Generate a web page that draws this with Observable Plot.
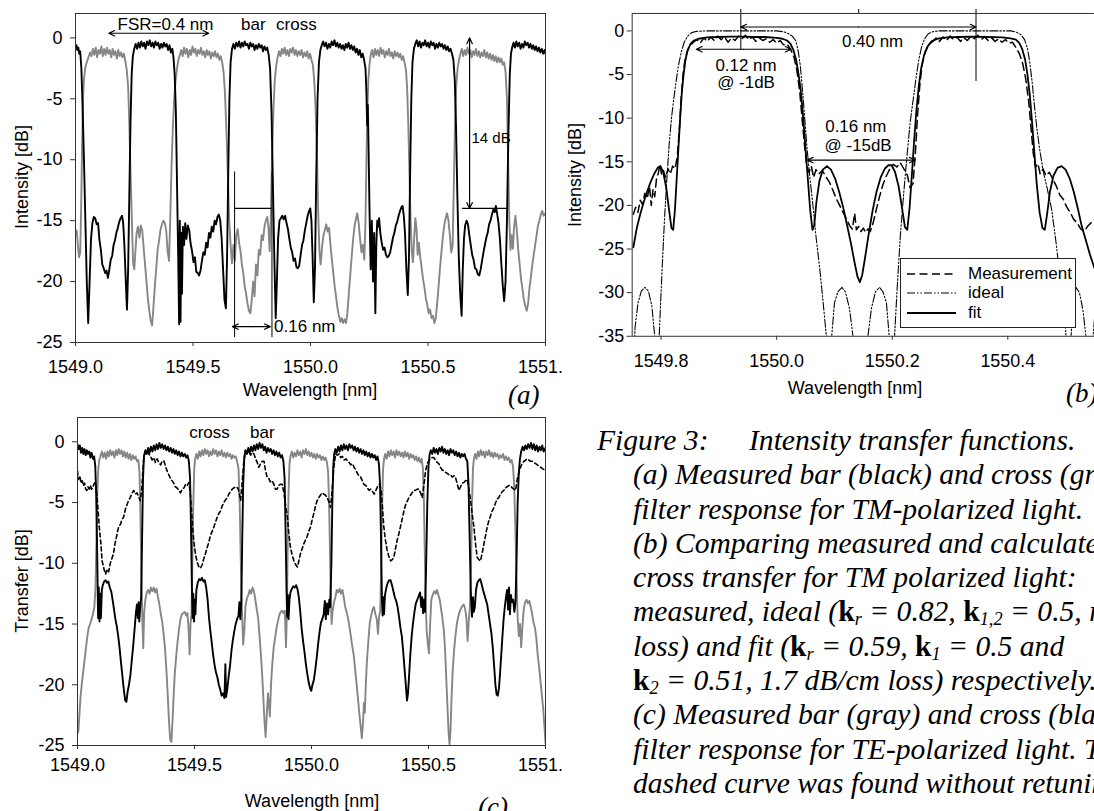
<!DOCTYPE html>
<html><head><meta charset="utf-8">
<script src="https://cdn.jsdelivr.net/npm/d3@7"></script>
<script src="https://cdn.jsdelivr.net/npm/@observablehq/plot@0.6"></script>
<style>
html,body{margin:0;padding:0;background:#fff;}
body{width:1094px;height:811px;overflow:hidden;position:relative;font-family:'Liberation Sans',Arial,sans-serif;color:#000;}
.panel{position:absolute;overflow:hidden;}
.ylab{position:absolute;white-space:nowrap;font-size:18px;transform:translate(-50%,-50%) rotate(-90deg);}
.xlab{position:absolute;white-space:nowrap;font-size:18px;transform:translateX(-50%);}
.plab{position:absolute;white-space:nowrap;font-family:'Liberation Serif','Times New Roman',serif;font-style:italic;font-size:27px;}
#caption{position:absolute;left:633px;top:423px;width:470px;font-family:'Liberation Serif','Times New Roman',serif;font-style:italic;font-size:29.6px;line-height:34.3px;white-space:nowrap;}
#caption div{position:relative;height:34.3px;}
#caption b{font-style:normal;font-weight:bold;}
#caption sub{font-size:0.62em;vertical-align:-0.22em;line-height:0;}
#legend{position:absolute;left:900px;top:258px;width:174px;height:68px;border:1px solid #222;background:#fff;font-size:17px;}
#legend .row{position:absolute;left:0;height:20px;width:174px;}
#legend svg{position:absolute;left:6px;top:0;}
#legend span{position:absolute;left:67px;top:0;line-height:20px;}
</style>
</head><body>
<div id="pa" class="panel" style="left:0;top:0;width:562px;height:400px"></div>
<div id="pb" class="panel" style="left:540px;top:0;width:554px;height:400px"></div>
<div id="pc" class="panel" style="left:0;top:400px;width:562px;height:411px"></div>

<div class="ylab" style="left:22px;top:177px">Intensity [dB]</div>
<div class="xlab" style="left:310px;top:380px">Wavelength [nm]</div>
<div class="plab" style="left:508px;top:380px">(a)</div>

<div class="ylab" style="left:575px;top:175px">Intensity [dB]</div>
<div class="xlab" style="left:855px;top:378px">Wavelength [nm]</div>
<div class="plab" style="left:1066px;top:378px">(b)</div>

<div class="ylab" style="left:22px;top:581px">Transfer [dB]</div>
<div class="xlab" style="left:312px;top:791px">Wavelength [nm]</div>
<div class="plab" style="left:478px;top:792px">(c)</div>

<div id="legend">
  <div class="row" style="top:5px"><svg width="50" height="20"><line x1="0" y1="10" x2="49" y2="10" stroke="#000" stroke-width="1.5" stroke-dasharray="8,4.5"/></svg><span>Measurement</span></div>
  <div class="row" style="top:24px"><svg width="50" height="20"><line x1="0" y1="10" x2="49" y2="10" stroke="#000" stroke-width="1.1" stroke-dasharray="8,2,1.5,2,1.5,2"/></svg><span>ideal</span></div>
  <div class="row" style="top:44px"><svg width="50" height="20"><line x1="0" y1="10" x2="49" y2="10" stroke="#000" stroke-width="1.8"/></svg><span>fit</span></div>
</div>

<div id="caption">
  <div><span style="position:absolute;left:-36px">Figure 3:</span><span style="position:absolute;left:116px">Intensity transfer functions.</span></div>
  <div>(a) Measured bar (black) and cross (gray)</div>
  <div>filter response for TM-polarized light.</div>
  <div>(b) Comparing measured and calculated</div>
  <div>cross transfer for TM polarized light:</div>
  <div>measured, ideal (<b>k</b><sub>r</sub> = 0.82, <b>k</b><sub>1,2</sub> = 0.5, no</div>
  <div>loss) and fit (<b>k</b><sub>r</sub> = 0.59, <b>k</b><sub>1</sub> = 0.5 and</div>
  <div><b>k</b><sub>2</sub> = 0.51, 1.7 dB/cm loss) respectively.</div>
  <div>(c) Measured bar (gray) and cross (black)</div>
  <div>filter response for TE-polarized light. The</div>
  <div>dashed curve was found without retuning.</div>
</div>

<script>
// ---------------- Panel (a): TM, bar (black) and cross (gray) ----------------
const ticksXA = [1549.0, 1549.5, 1550.0, 1550.5, 1551.0];
const ticksYA = [-25, -20, -15, -10, -5, 0];
const barA = [
[1549.000,-0.9],[1549.004,-0.6],[1549.008,-1.0],[1549.012,-0.8],[1549.016,-1.3],[1549.020,-1.1],[1549.025,-2.5],[1549.030,-5.5],[1549.036,-10],[1549.042,-15],[1549.048,-20],[1549.054,-23.4],[1549.060,-20],[1549.066,-16.5],[1549.072,-15.2],[1549.078,-14.7],[1549.084,-14.8],[1549.090,-15.3],[1549.096,-15.2],[1549.102,-16.6],[1549.108,-17.4],[1549.114,-18.6],[1549.120,-18.9],[1549.126,-19.3],[1549.132,-19.1],[1549.138,-19.7],[1549.144,-19.0],[1549.150,-18.2],[1549.156,-17.9],[1549.162,-17.0],[1549.168,-16.6],[1549.174,-16.0],[1549.180,-15.6],[1549.186,-15.1],[1549.192,-14.8],[1549.198,-14.6],[1549.203,-15.2],[1549.208,-17],[1549.214,-20],[1549.219,-22.3],[1549.224,-19],[1549.229,-13],[1549.234,-7],[1549.239,-3],[1549.244,-1.5],[1549.250,-0.9],
[1549.256,-0.5],[1549.262,-0.9],[1549.268,-0.4],[1549.274,-0.8],[1549.280,-0.3],[1549.286,-0.7],[1549.292,-0.4],[1549.298,-0.9],[1549.304,-0.3],[1549.310,-0.6],[1549.316,-0.2],[1549.322,-0.7],[1549.328,-0.4],[1549.334,-0.8],[1549.340,-0.3],[1549.346,-0.6],[1549.352,-0.4],[1549.358,-0.9],[1549.364,-0.5],[1549.370,-0.8],[1549.376,-0.4],[1549.382,-0.7],[1549.388,-0.5],[1549.394,-1.0],[1549.400,-0.6],[1549.406,-1.2],[1549.412,-0.9],[1549.417,-1.6],[1549.422,-3],[1549.427,-6],
[1549.432,-12],[1549.437,-18],[1549.441,-23.5],[1549.444,-15],[1549.447,-23.3],[1549.450,-16],[1549.453,-21],[1549.457,-15.5],[1549.462,-17],[1549.467,-15.2],[1549.472,-16.5],[1549.478,-15.4],[1549.484,-15.8],[1549.490,-16.9],[1549.496,-17.5],[1549.502,-18.4],[1549.508,-18.0],[1549.514,-19.2],[1549.520,-19.3],[1549.526,-19.5],[1549.532,-19.1],[1549.538,-18.3],[1549.544,-17.6],[1549.550,-17.8],[1549.556,-16.8],[1549.562,-17.2],[1549.568,-16.0],[1549.574,-16.4],[1549.580,-15.5],[1549.586,-15.9],[1549.592,-15.0],[1549.598,-15.3],[1549.604,-14.7],[1549.610,-14.5],[1549.616,-15.0],[1549.622,-16.5],[1549.628,-19],[1549.634,-21.5],[1549.640,-22.2],[1549.645,-18],[1549.650,-11],[1549.655,-5],[1549.660,-2],[1549.666,-0.9],
[1549.672,-0.5],[1549.678,-0.9],[1549.684,-0.4],[1549.690,-0.7],[1549.696,-0.3],[1549.702,-0.8],[1549.708,-0.4],[1549.714,-0.7],[1549.720,-0.3],[1549.726,-0.6],[1549.732,-0.5],[1549.738,-0.9],[1549.744,-0.4],[1549.750,-0.7],[1549.756,-0.5],[1549.762,-1.0],[1549.768,-0.6],[1549.774,-0.9],[1549.780,-0.5],[1549.786,-0.8],[1549.792,-0.6],[1549.798,-1.1],[1549.804,-0.7],[1549.810,-1.0],[1549.816,-0.8],[1549.822,-1.4],[1549.828,-2.5],[1549.834,-6],[1549.840,-12],[1549.846,-18],[1549.852,-23],[1549.857,-20],[1549.862,-16.5],[1549.868,-15.0],[1549.874,-14.8],[1549.880,-14.6],[1549.886,-14.9],[1549.892,-14.6],[1549.898,-15.2],[1549.904,-15.7],[1549.910,-16.5],[1549.916,-17.2],[1549.922,-17.6],[1549.928,-18.3],[1549.934,-18.1],[1549.940,-18.8],[1549.946,-18.9],[1549.952,-18.7],[1549.958,-17.8],[1549.964,-17.0],[1549.970,-16.6],[1549.976,-15.8],[1549.982,-15.2],[1549.988,-14.6],[1549.994,-14.2],[1549.999,-14.0],[1550.004,-15],[1550.009,-18],[1550.014,-21.7],[1550.019,-19],[1550.024,-12],[1550.030,-5],[1550.036,-2],[1550.042,-1.0],
[1550.048,-0.6],[1550.054,-0.3],[1550.060,-0.7],[1550.066,-0.4],[1550.072,-0.9],[1550.078,-0.5],[1550.084,-0.8],[1550.090,-0.3],[1550.096,-0.6],[1550.102,-0.2],[1550.108,-0.7],[1550.114,-0.4],[1550.120,-0.8],[1550.126,-0.5],[1550.132,-0.9],[1550.138,-0.6],[1550.144,-1.0],[1550.150,-0.5],[1550.156,-0.8],[1550.162,-0.4],[1550.168,-0.9],[1550.174,-0.6],[1550.180,-1.0],[1550.186,-0.7],[1550.192,-1.2],[1550.198,-0.9],[1550.204,-1.4],[1550.210,-1.0],[1550.216,-1.6],[1550.222,-1.3],[1550.228,-1.8],[1550.234,-2.5],[1550.238,-4.5],[1550.241,-7.2],[1550.244,-5.5],[1550.247,-9],[1550.251,-14],[1550.256,-19],[1550.261,-15],[1550.266,-20],[1550.271,-16],[1550.276,-22.6],[1550.280,-17],[1550.284,-15],[1550.288,-15.5],[1550.292,-14.8],[1550.297,-16],[1550.303,-16.8],[1550.309,-17.4],[1550.315,-17.2],[1550.321,-17.8],[1550.327,-18.0],[1550.333,-17.9],[1550.339,-17.6],[1550.345,-17.0],[1550.351,-16.4],[1550.357,-16.0],[1550.363,-15.4],[1550.369,-15.1],[1550.375,-14.6],[1550.381,-14.2],[1550.387,-13.9],[1550.392,-13.8],[1550.397,-14.6],[1550.402,-16],[1550.408,-19],[1550.414,-21.1],[1550.419,-18],[1550.424,-11],[1550.429,-5],[1550.434,-2],[1550.440,-0.9],
[1550.446,-0.5],[1550.452,-0.2],[1550.458,-0.7],[1550.464,-0.3],[1550.470,-0.8],[1550.476,-0.4],[1550.482,-0.6],[1550.488,-0.2],[1550.494,-0.7],[1550.500,-0.4],[1550.506,-0.8],[1550.512,-0.3],[1550.518,-0.6],[1550.524,-0.4],[1550.530,-0.9],[1550.536,-0.5],[1550.542,-0.8],[1550.548,-0.4],[1550.554,-0.7],[1550.560,-0.5],[1550.566,-0.9],[1550.572,-0.6],[1550.578,-1.0],[1550.584,-0.7],[1550.590,-1.1],[1550.596,-0.9],[1550.602,-1.3],[1550.608,-1.8],[1550.614,-3.5],[1550.619,-7],[1550.625,-13],[1550.631,-18],[1550.637,-21],[1550.643,-22.8],[1550.648,-19],[1550.653,-16.5],[1550.658,-15.4],[1550.664,-15.0],[1550.670,-15.3],[1550.676,-16.2],[1550.682,-17.0],[1550.688,-17.8],[1550.694,-18.2],[1550.700,-18.9],[1550.706,-19.0],[1550.712,-19.4],[1550.718,-19.5],[1550.724,-19.0],[1550.730,-18.3],[1550.736,-17.6],[1550.742,-17.0],[1550.748,-16.4],[1550.754,-16.0],[1550.760,-15.3],[1550.766,-15.0],[1550.772,-14.5],[1550.778,-14.1],[1550.784,-14.3],[1550.789,-13.8],[1550.794,-14.4],[1550.800,-15.2],[1550.806,-16.5],[1550.812,-18.5],[1550.818,-20.3],[1550.824,-21.6],[1550.830,-20],[1550.836,-15],[1550.842,-8],[1550.848,-3],[1550.853,-1.3],
[1550.858,-0.8],[1550.864,-0.4],[1550.870,-0.8],[1550.876,-0.3],[1550.882,-0.7],[1550.888,-0.4],[1550.894,-0.9],[1550.900,-0.5],[1550.906,-0.8],[1550.912,-0.3],[1550.918,-0.6],[1550.924,-0.4],[1550.930,-0.8],[1550.936,-0.5],[1550.942,-0.9],[1550.948,-0.6],[1550.954,-1.0],[1550.960,-0.7],[1550.966,-1.1],[1550.972,-0.8],[1550.978,-1.2],[1550.984,-0.9],[1550.990,-1.3],[1550.996,-1.0],[1551.000,-1.3]
];
const crossA = [
[1549.000,-16.2],[1549.005,-15.8],[1549.010,-17.0],[1549.015,-18.0],[1549.020,-17.6],[1549.024,-14],[1549.028,-9],[1549.032,-5],[1549.036,-3.4],[1549.042,-2.4],[1549.048,-2.0],[1549.055,-1.6],[1549.062,-1.2],
[1549.068,-1.5],[1549.074,-0.9],[1549.080,-1.4],[1549.086,-0.8],[1549.092,-1.6],[1549.098,-1.0],[1549.104,-1.3],[1549.110,-0.7],[1549.116,-1.5],[1549.122,-0.9],[1549.128,-1.4],[1549.134,-0.8],[1549.140,-1.3],[1549.146,-1.0],[1549.152,-1.6],[1549.158,-0.9],[1549.164,-1.4],[1549.170,-1.1],[1549.176,-1.7],[1549.182,-1.0],[1549.188,-1.5],[1549.194,-1.2],[1549.200,-1.6],[1549.206,-1.3],[1549.212,-1.9],[1549.218,-2.6],[1549.224,-4],[1549.229,-7],[1549.234,-11],[1549.240,-15],[1549.245,-18.5],[1549.250,-19],[1549.255,-17.5],[1549.260,-16],[1549.266,-15.5],[1549.272,-16.4],[1549.278,-15.4],[1549.284,-15.8],[1549.290,-17.2],[1549.296,-18.6],[1549.302,-20.0],[1549.308,-21.4],[1549.314,-22.4],[1549.320,-23.2],[1549.326,-23.6],[1549.332,-22.0],[1549.338,-20.3],[1549.344,-18.8],[1549.350,-17.3],[1549.356,-16.6],[1549.362,-15.7],[1549.368,-15.3],[1549.374,-15.0],[1549.380,-15.2],[1549.386,-15.8],[1549.392,-17.5],[1549.398,-18.3],[1549.403,-15],[1549.408,-11],[1549.414,-7.5],[1549.420,-5],[1549.426,-3.5],[1549.432,-2.5],[1549.438,-1.8],[1549.444,-1.4],
[1549.450,-1.0],[1549.456,-1.5],[1549.462,-0.8],[1549.468,-1.3],[1549.474,-0.9],[1549.480,-1.6],[1549.486,-1.0],[1549.492,-1.4],[1549.498,-0.7],[1549.504,-1.2],[1549.510,-0.9],[1549.516,-1.5],[1549.522,-1.0],[1549.528,-1.3],[1549.534,-0.8],[1549.540,-1.4],[1549.546,-1.1],[1549.552,-1.6],[1549.558,-1.0],[1549.564,-1.4],[1549.570,-1.1],[1549.576,-1.7],[1549.582,-1.2],[1549.588,-1.5],[1549.594,-1.1],[1549.600,-1.6],[1549.606,-1.3],[1549.612,-1.8],[1549.618,-1.5],[1549.624,-2.0],[1549.630,-2.8],[1549.636,-4.5],[1549.642,-7.5],[1549.648,-11],[1549.654,-15],[1549.660,-17],[1549.666,-18.5],[1549.672,-17.0],[1549.678,-18.3],[1549.684,-16.2],[1549.690,-15.7],[1549.696,-16.8],[1549.702,-17.5],[1549.708,-18.6],[1549.714,-19.3],[1549.720,-20.4],[1549.726,-21.0],[1549.732,-21.8],[1549.738,-22.4],[1549.744,-22.6],[1549.750,-21.5],[1549.756,-20.0],[1549.762,-21.2],[1549.768,-18.6],[1549.774,-19.5],[1549.780,-17.4],[1549.786,-17.8],[1549.792,-16.2],[1549.798,-16.6],[1549.804,-15.5],[1549.810,-15.0],[1549.816,-14.7],[1549.821,-15.5],[1549.826,-17.5],[1549.831,-15],[1549.836,-10],[1549.842,-6],[1549.848,-3.5],[1549.854,-2.3],[1549.860,-1.6],
[1549.866,-1.1],[1549.872,-1.5],[1549.878,-0.9],[1549.884,-1.3],[1549.890,-0.8],[1549.896,-1.4],[1549.902,-1.0],[1549.908,-1.5],[1549.914,-0.9],[1549.920,-1.2],[1549.926,-0.8],[1549.932,-1.4],[1549.938,-1.0],[1549.944,-1.5],[1549.950,-1.1],[1549.956,-1.4],[1549.962,-1.0],[1549.968,-1.6],[1549.974,-1.2],[1549.980,-1.5],[1549.986,-1.1],[1549.992,-1.7],[1549.998,-1.3],[1550.004,-1.8],[1550.010,-2.2],[1550.016,-3.5],[1550.022,-6],[1550.028,-10],[1550.033,-14.5],[1550.038,-17.5],[1550.043,-18.6],[1550.049,-17.2],[1550.055,-16.2],[1550.061,-15.8],[1550.067,-15.3],[1550.073,-15.9],[1550.079,-15.6],[1550.085,-17.0],[1550.091,-18.2],[1550.097,-19.3],[1550.103,-20.4],[1550.109,-21.3],[1550.115,-22.2],[1550.121,-22.8],[1550.127,-23.3],[1550.133,-23.0],[1550.139,-23.4],[1550.145,-23.1],[1550.151,-23.4],[1550.157,-22.6],[1550.163,-21.0],[1550.169,-19.5],[1550.175,-18.0],[1550.181,-16.6],[1550.187,-15.5],[1550.193,-14.9],[1550.199,-14.4],[1550.205,-15.2],[1550.211,-16.5],[1550.217,-17.6],[1550.223,-17.0],[1550.229,-18.2],[1550.234,-15],[1550.238,-10],[1550.242,-6],[1550.246,-3.5],[1550.251,-2.2],
[1550.256,-1.4],[1550.262,-1.0],[1550.268,-1.6],[1550.274,-0.9],[1550.280,-1.4],[1550.286,-1.0],[1550.292,-1.5],[1550.298,-0.8],[1550.304,-1.3],[1550.310,-1.0],[1550.316,-1.6],[1550.322,-1.1],[1550.328,-1.4],[1550.334,-0.9],[1550.340,-1.5],[1550.346,-1.2],[1550.352,-1.7],[1550.358,-1.1],[1550.364,-1.5],[1550.370,-1.2],[1550.376,-1.6],[1550.382,-1.3],[1550.388,-1.8],[1550.394,-1.5],[1550.400,-2.0],[1550.406,-2.6],[1550.411,-4],[1550.416,-7],[1550.421,-11],[1550.426,-15],[1550.431,-17.5],[1550.436,-18.4],[1550.441,-16.5],[1550.446,-14.8],[1550.451,-15.6],[1550.456,-17.8],[1550.461,-16.8],[1550.467,-18.0],[1550.473,-18.9],[1550.479,-19.8],[1550.485,-20.5],[1550.491,-21.4],[1550.497,-21.9],[1550.503,-22.6],[1550.509,-22.3],[1550.515,-23.0],[1550.521,-22.8],[1550.527,-23.4],[1550.533,-23.0],[1550.539,-21.8],[1550.545,-20.4],[1550.551,-18.9],[1550.557,-17.6],[1550.563,-16.4],[1550.569,-15.4],[1550.575,-14.8],[1550.581,-14.4],[1550.587,-15.0],[1550.593,-16.2],[1550.599,-17.6],[1550.605,-17.0],[1550.610,-12],[1550.615,-7],[1550.620,-4],[1550.626,-2.5],[1550.632,-1.8],
[1550.638,-1.3],[1550.644,-0.9],[1550.650,-1.5],[1550.656,-1.0],[1550.662,-1.4],[1550.668,-0.8],[1550.674,-1.3],[1550.680,-1.0],[1550.686,-1.6],[1550.692,-1.1],[1550.698,-1.4],[1550.704,-0.9],[1550.710,-1.5],[1550.716,-1.1],[1550.722,-1.6],[1550.728,-1.2],[1550.734,-1.5],[1550.740,-1.0],[1550.746,-1.6],[1550.752,-1.2],[1550.758,-1.7],[1550.764,-1.3],[1550.770,-1.8],[1550.776,-1.4],[1550.782,-1.9],[1550.788,-1.5],[1550.794,-2.0],[1550.800,-1.6],[1550.806,-2.0],[1550.812,-1.7],[1550.818,-2.2],[1550.824,-2.0],[1550.830,-2.8],[1550.836,-5],[1550.841,-10],[1550.846,-15],[1550.851,-17.4],[1550.856,-16.2],[1550.861,-17.3],[1550.866,-15.6],[1550.872,-14.6],[1550.878,-15.8],[1550.884,-17.4],[1550.890,-18.6],[1550.896,-19.8],[1550.902,-20.6],[1550.908,-21.5],[1550.914,-22.0],[1550.920,-22.4],[1550.926,-21.8],[1550.932,-20.5],[1550.938,-19.6],[1550.944,-18.6],[1550.950,-17.8],[1550.956,-17.0],[1550.962,-16.2],[1550.968,-15.4],[1550.974,-15.0],[1550.980,-14.5],[1550.986,-14.2],[1550.992,-14.6],[1551.000,-14.4]
];
// annotations (a): [x1, y1, x2, y2] double arrows; rules; labels
const arrowsA = [[1549.142, 0.38, 1549.567, 0.38], [1550.677, 0, 1550.677, -14], [1549.668, -23.7, 1549.829, -23.7]];
const vrulesA = [[1549.677, -11, -24.6], [1549.836, -11, -24.6]];
const hrulesA = [[-14, 1549.677, 1549.836], [-14, 1550.647, 1550.843]];
const labelsMidA = [
  {x: 1549.383, y: 1.12, text: "FSR=0.4 nm"},
  {x: 1549.757, y: 1.12, text: "bar"},
  {x: 1549.940, y: 1.12, text: "cross"}
];
const labelsStartA = [
  {x: 1550.685, y: -8.2, text: "14 dB", size: 15},
  {x: 1549.845, y: -23.7, text: "0.16 nm", size: 17}
];

// ---------------- Panel (b): cross transfer TM, measurement / ideal / fit ----------------
const ticksXB = [1549.8, 1550.0, 1550.2, 1550.4];
const ticksYB = [-35, -30, -25, -20, -15, -10, -5, 0];
const fitB = [
[1549.752,-24.8],[1549.758,-22.6],[1549.764,-21.0],[1549.770,-19.6],[1549.776,-18.4],[1549.782,-17.3],[1549.788,-16.4],[1549.794,-15.7],[1549.799,-15.5],[1549.804,-16.3],[1549.809,-18.0],[1549.814,-20.6],[1549.818,-22.6],[1549.821,-22.8],[1549.824,-20.5],[1549.827,-17.0],[1549.830,-13.5],[1549.833,-10],[1549.836,-7],[1549.839,-5],[1549.842,-3.4],[1549.846,-2.2],[1549.851,-1.5],[1549.857,-1.1],[1549.865,-0.9],[1549.880,-0.75],[1549.900,-0.7],[1549.920,-0.65],[1549.940,-0.65],[1549.960,-0.7],[1549.980,-0.7],[1550.000,-0.8],[1550.010,-0.9],[1550.018,-1.1],[1550.024,-1.5],[1550.029,-2.2],[1550.034,-3.4],[1550.038,-5],[1550.042,-7],[1550.046,-10],[1550.050,-13.5],[1550.054,-17],[1550.058,-20.5],[1550.062,-22.8],[1550.065,-22.3],[1550.069,-19.5],[1550.074,-17.2],[1550.080,-15.9],[1550.087,-15.5],[1550.094,-15.9],[1550.101,-16.9],[1550.108,-18.4],[1550.115,-20.2],[1550.122,-22.3],[1550.129,-24.5],[1550.135,-26.6],[1550.140,-28.2],[1550.144,-28.8],[1550.148,-28.0],[1550.153,-26.0],[1550.159,-23.4],[1550.166,-20.6],[1550.173,-18.4],[1550.180,-16.8],[1550.187,-15.8],[1550.193,-15.4],[1550.199,-15.4],[1550.205,-16.2],[1550.211,-17.8],[1550.217,-20.3],[1550.222,-22.5],[1550.226,-22.8],[1550.230,-20.3],[1550.234,-16.5],[1550.238,-12.5],[1550.242,-9],[1550.246,-6.3],[1550.250,-4.3],[1550.255,-2.8],[1550.261,-1.8],[1550.268,-1.2],[1550.278,-0.9],[1550.295,-0.75],[1550.315,-0.7],[1550.340,-0.65],[1550.365,-0.7],[1550.390,-0.75],[1550.405,-0.85],[1550.414,-1.0],[1550.420,-1.4],[1550.425,-2.1],[1550.430,-3.3],[1550.434,-5],[1550.438,-7.3],[1550.442,-10.5],[1550.446,-14],[1550.450,-17.5],[1550.455,-20.8],[1550.460,-22.6],[1550.464,-22.8],[1550.468,-21.0],[1550.473,-18.4],[1550.479,-16.6],[1550.486,-15.7],[1550.493,-15.5],[1550.500,-15.9],[1550.507,-16.9],[1550.514,-18.4],[1550.521,-20.3],[1550.528,-22.4],[1550.535,-24.0],[1550.542,-25.6],[1550.550,-27.2]
];
const idealB = [
[1549.750,-42],[1549.755,-34],[1549.760,-31.2],[1549.766,-29.8],[1549.772,-29.4],[1549.778,-29.8],[1549.784,-31.5],[1549.789,-35],[1549.792,-45],[1549.795,-38],[1549.798,-33],[1549.802,-27],[1549.806,-21.5],[1549.810,-17],[1549.814,-13],[1549.818,-10],[1549.822,-7.8],[1549.826,-5.8],[1549.830,-4.0],[1549.835,-2.4],[1549.840,-1.3],[1549.846,-0.6],[1549.853,-0.2],[1549.862,-0.05],[1549.880,0],[1549.940,0],[1550.000,0],[1550.012,-0.1],[1550.020,-0.3],[1550.027,-0.6],[1550.033,-1.1],[1550.037,-2.2],[1550.041,-4],[1550.045,-7],[1550.048,-9.5],[1550.052,-13],[1550.057,-16.5],[1550.062,-19.5],[1550.068,-23.5],[1550.075,-27.5],[1550.081,-31.5],[1550.086,-35],[1550.090,-45],[1550.094,-36],[1550.100,-31.2],[1550.106,-29.9],[1550.113,-29.4],[1550.119,-29.9],[1550.126,-31.8],[1550.133,-35.5],[1550.139,-40],[1550.145,-55],[1550.151,-40],[1550.157,-35.5],[1550.164,-31.8],[1550.171,-29.9],[1550.178,-29.4],[1550.184,-29.9],[1550.190,-31.2],[1550.196,-36],[1550.200,-45],[1550.204,-35],[1550.209,-29],[1550.214,-23.5],[1550.220,-18.5],[1550.226,-14],[1550.231,-10.5],[1550.236,-8],[1550.241,-5.5],[1550.246,-3.3],[1550.251,-1.8],[1550.256,-0.9],[1550.262,-0.35],[1550.270,-0.1],[1550.280,0],[1550.340,0],[1550.405,0],[1550.415,-0.15],[1550.423,-0.45],[1550.429,-1.0],[1550.434,-2.0],[1550.438,-3.6],[1550.442,-5.8],[1550.446,-8.5],[1550.450,-11],[1550.455,-13.5],[1550.461,-16],[1550.468,-18],[1550.476,-20.5],[1550.483,-24],[1550.490,-28],[1550.496,-31.5],[1550.501,-35],[1550.505,-45],[1550.509,-35.5],[1550.513,-31.2],[1550.518,-29.4],[1550.524,-30],[1550.530,-32],[1550.536,-35.5],[1550.540,-45],[1550.545,-37],[1550.550,-33]
];
const measB = [
[1549.752,-21.0],[1549.756,-20.2],[1549.760,-20.8],[1549.764,-19.4],[1549.768,-19.9],[1549.772,-18.6],[1549.776,-19.2],[1549.780,-17.8],[1549.783,-20.0],[1549.786,-18.2],[1549.789,-19.0],[1549.792,-17.0],[1549.795,-16.4],[1549.798,-15.3],[1549.801,-16.5],[1549.804,-16.0],[1549.808,-16.8],[1549.812,-15.8],[1549.816,-16.4],[1549.820,-15.5],[1549.824,-15.8],[1549.828,-14.5],[1549.832,-11],[1549.835,-7.5],[1549.838,-5],[1549.841,-3.5],[1549.845,-2.4],[1549.850,-1.7],[1549.856,-1.3],
[1549.862,-1.0],[1549.868,-1.4],[1549.874,-0.8],[1549.880,-1.2],[1549.886,-0.7],[1549.892,-1.1],[1549.898,-0.6],[1549.904,-1.0],[1549.910,-0.7],[1549.916,-1.3],[1549.922,-0.8],[1549.928,-1.1],[1549.934,-0.6],[1549.940,-0.9],[1549.946,-0.5],[1549.952,-1.0],[1549.958,-0.7],[1549.964,-1.2],[1549.970,-0.8],[1549.976,-1.1],[1549.982,-0.9],[1549.988,-1.3],[1549.994,-1.0],[1550.000,-1.4],[1550.006,-1.1],[1550.012,-1.6],[1550.018,-1.5],[1550.024,-2.1],[1550.030,-3.0],[1550.035,-4.5],[1550.040,-7],[1550.044,-10],[1550.048,-13],[1550.052,-15.5],[1550.056,-16.2],[1550.060,-15.5],[1550.064,-16.8],[1550.068,-15.9],[1550.073,-16.4],[1550.079,-16.0],[1550.085,-16.7],[1550.091,-17.3],[1550.097,-18.2],[1550.103,-19.2],[1550.109,-20.0],[1550.115,-20.8],[1550.121,-21.6],[1550.127,-22.4],[1550.131,-22.7],[1550.135,-20.9],[1550.138,-22.8],[1550.142,-22.4],[1550.146,-23.0],[1550.150,-22.6],[1550.154,-23.1],[1550.158,-22.7],[1550.162,-23.0],[1550.167,-22.0],[1550.172,-20.6],[1550.178,-19.0],[1550.184,-17.6],[1550.190,-16.6],[1550.196,-15.8],[1550.202,-15.3],[1550.208,-15.6],[1550.214,-15.1],[1550.220,-15.8],[1550.226,-16.5],[1550.231,-18.0],[1550.236,-17.5],[1550.240,-14],[1550.244,-9.5],[1550.248,-6],[1550.252,-3.8],[1550.257,-2.4],[1550.263,-1.6],[1550.270,-1.2],
[1550.276,-0.8],[1550.282,-1.2],[1550.288,-0.7],[1550.294,-1.1],[1550.300,-0.6],[1550.306,-1.0],[1550.312,-0.7],[1550.318,-1.2],[1550.324,-0.8],[1550.330,-1.1],[1550.336,-0.6],[1550.342,-0.9],[1550.348,-0.5],[1550.354,-1.0],[1550.360,-0.7],[1550.366,-1.1],[1550.372,-0.8],[1550.378,-1.2],[1550.384,-0.9],[1550.390,-1.3],[1550.396,-1.0],[1550.402,-1.4],[1550.408,-1.3],[1550.414,-1.9],[1550.420,-2.6],[1550.426,-3.8],[1550.431,-5.5],[1550.436,-8],[1550.440,-11],[1550.444,-14],[1550.448,-15.6],[1550.452,-15.2],[1550.456,-16.4],[1550.461,-15.8],[1550.466,-16.6],[1550.472,-16.2],[1550.478,-17.0],[1550.484,-17.8],[1550.490,-18.8],[1550.496,-19.3],[1550.502,-20.2],[1550.508,-20.8],[1550.514,-21.6],[1550.520,-22.0],[1550.526,-22.7],[1550.532,-23.0],[1550.538,-22.4],[1550.544,-22.0],[1550.550,-21.6]
];
const arrowsB = [[1549.938, 0.45, 1550.345, 0.45], [1549.861, -2.1, 1550.025, -2.1], [1550.053, -14.8, 1550.240, -14.8]];
const vrulesB = [[1549.938, 2.45, -2.2], [1550.142, 2.45, 2.0], [1550.345, 2.45, -5.8]];
const labelsB = [
  {x: 1550.166, y: -1.25, text: "0.40 nm"},
  {x: 1549.947, y: -3.98, text: "0.12 nm"},
  {x: 1549.947, y: -5.98, text: "@ -1dB"},
  {x: 1550.137, y: -10.98, text: "0.16 nm"},
  {x: 1550.141, y: -13.2, text: "@ -15dB"}
];

// ---------------- Panel (c): TE, bar (gray), cross (black), dashed without retuning ----------------
const ticksXC = [1549.0, 1549.5, 1550.0, 1550.5, 1551.0];
const ticksYC = [-25, -20, -15, -10, -5, 0];
const crossC = [
[1549.000,-0.2],[1549.005,-0.6],[1549.010,-0.3],[1549.015,-0.9],[1549.020,-0.5],[1549.025,-1.0],[1549.030,-0.6],[1549.035,-1.1],[1549.040,-0.7],[1549.045,-1.0],[1549.050,-0.8],[1549.055,-1.3],[1549.060,-0.9],[1549.066,-1.4],[1549.071,-1.2],[1549.076,-2.0],[1549.080,-4.5],[1549.084,-9],[1549.088,-14.5],[1549.091,-12],[1549.094,-14.8],[1549.097,-12.5],[1549.100,-14.5],[1549.104,-12.2],[1549.108,-11.8],[1549.114,-11.5],[1549.120,-11.4],[1549.126,-11.6],[1549.132,-11.5],[1549.138,-12.0],[1549.144,-12.3],[1549.150,-13.0],[1549.156,-13.8],[1549.162,-14.6],[1549.168,-15.2],[1549.174,-16.0],[1549.180,-17.0],[1549.186,-18.2],[1549.192,-19.3],[1549.198,-20.4],[1549.204,-21.3],[1549.209,-21.4],[1549.214,-20.6],[1549.220,-20.0],[1549.226,-19.2],[1549.232,-18.0],[1549.238,-16.8],[1549.244,-15.4],[1549.250,-14.0],[1549.254,-13.4],[1549.258,-14.5],[1549.261,-13.2],[1549.264,-14.8],[1549.268,-13.6],[1549.272,-12.8],[1549.276,-8],[1549.280,-3],[1549.284,-1.2],
[1549.290,-0.7],[1549.296,-1.0],[1549.302,-0.5],[1549.308,-0.9],[1549.314,-0.4],[1549.320,-0.8],[1549.326,-0.3],[1549.332,-0.7],[1549.338,-0.2],[1549.344,-0.6],[1549.350,-0.1],[1549.356,-0.5],[1549.362,-0.2],[1549.368,-0.6],[1549.374,-0.3],[1549.380,-0.7],[1549.386,-0.4],[1549.392,-0.8],[1549.398,-0.5],[1549.404,-0.9],[1549.410,-0.6],[1549.416,-1.0],[1549.422,-0.7],[1549.428,-1.1],[1549.434,-0.8],[1549.440,-1.2],[1549.446,-0.9],[1549.452,-1.2],[1549.458,-1.0],[1549.464,-1.3],[1549.470,-1.1],[1549.476,-1.6],[1549.481,-3],[1549.485,-7],[1549.489,-12],[1549.492,-14.5],[1549.495,-12.5],[1549.498,-14.8],[1549.501,-13],[1549.504,-14.2],[1549.508,-12.2],[1549.514,-11.6],[1549.520,-11.3],[1549.526,-11.4],[1549.532,-11.2],[1549.538,-11.5],[1549.544,-11.4],[1549.550,-12.0],[1549.556,-13.0],[1549.562,-14.5],[1549.568,-15.6],[1549.574,-16.6],[1549.580,-17.6],[1549.586,-18.4],[1549.592,-19.0],[1549.598,-19.4],[1549.604,-20.0],[1549.610,-20.4],[1549.616,-20.9],[1549.622,-20.7],[1549.628,-21.1],[1549.632,-18.3],[1549.635,-21.0],[1549.640,-20.4],[1549.646,-19.3],[1549.652,-18.4],[1549.658,-17.2],[1549.664,-16.3],[1549.670,-15.6],[1549.676,-15.0],[1549.682,-14.6],[1549.688,-14.3],[1549.692,-13.2],[1549.696,-14.6],[1549.700,-13.1],[1549.704,-8],[1549.708,-3.5],[1549.713,-1.2],
[1549.718,-0.7],[1549.724,-1.0],[1549.730,-0.5],[1549.736,-0.9],[1549.742,-0.4],[1549.748,-0.8],[1549.754,-0.3],[1549.760,-0.7],[1549.766,-0.2],[1549.772,-0.6],[1549.778,-0.1],[1549.784,-0.5],[1549.790,-0.2],[1549.796,-0.7],[1549.802,-0.4],[1549.808,-0.9],[1549.814,-0.5],[1549.820,-0.8],[1549.826,-0.6],[1549.832,-1.0],[1549.838,-0.7],[1549.844,-1.1],[1549.850,-0.8],[1549.856,-1.2],[1549.862,-0.9],[1549.868,-1.3],[1549.874,-1.1],[1549.880,-1.6],[1549.885,-3],[1549.889,-7],[1549.893,-12],[1549.896,-14.4],[1549.899,-12.6],[1549.902,-14.6],[1549.906,-13.0],[1549.910,-12.4],[1549.916,-12.1],[1549.922,-11.9],[1549.928,-12.0],[1549.934,-11.8],[1549.940,-12.1],[1549.946,-12.8],[1549.952,-14.0],[1549.958,-15.4],[1549.964,-16.4],[1549.970,-17.3],[1549.976,-18.3],[1549.982,-19.1],[1549.988,-19.8],[1549.994,-20.3],[1549.999,-20.5],[1550.004,-20.0],[1550.010,-19.6],[1550.016,-18.8],[1550.022,-17.8],[1550.028,-16.7],[1550.034,-15.7],[1550.040,-14.9],[1550.046,-14.6],[1550.052,-14.2],[1550.057,-13.1],[1550.061,-14.6],[1550.066,-13.3],[1550.071,-14.2],[1550.076,-13.0],[1550.080,-13.6],[1550.085,-10],[1550.089,-5],[1550.093,-2],[1550.097,-1.0],
[1550.102,-0.6],[1550.108,-0.9],[1550.114,-0.4],[1550.120,-0.8],[1550.126,-0.3],[1550.132,-0.7],[1550.138,-0.2],[1550.144,-0.6],[1550.150,-0.3],[1550.156,-0.7],[1550.162,-0.2],[1550.168,-0.5],[1550.174,-0.3],[1550.180,-0.7],[1550.186,-0.4],[1550.192,-0.8],[1550.198,-0.5],[1550.204,-0.9],[1550.210,-0.6],[1550.216,-1.0],[1550.222,-0.7],[1550.228,-1.1],[1550.234,-0.8],[1550.240,-1.2],[1550.246,-0.9],[1550.252,-1.3],[1550.258,-1.0],[1550.264,-1.3],[1550.270,-1.1],[1550.276,-1.5],[1550.282,-1.2],[1550.288,-1.8],[1550.293,-3.5],[1550.297,-8],[1550.301,-13],[1550.304,-14.3],[1550.307,-12.8],[1550.310,-14.2],[1550.314,-12.6],[1550.320,-12.0],[1550.326,-11.6],[1550.332,-11.4],[1550.338,-11.4],[1550.344,-11.8],[1550.350,-12.3],[1550.356,-12.8],[1550.362,-13.1],[1550.368,-13.6],[1550.374,-14.4],[1550.380,-15.3],[1550.386,-16.0],[1550.392,-17.3],[1550.398,-18.8],[1550.403,-20.0],[1550.408,-21.3],[1550.412,-20.8],[1550.416,-19.6],[1550.422,-17.6],[1550.428,-16.0],[1550.434,-14.9],[1550.440,-14.0],[1550.446,-13.3],[1550.452,-13.0],[1550.458,-12.7],[1550.464,-12.4],[1550.469,-13.6],[1550.473,-12.8],[1550.477,-14.1],[1550.481,-13.0],[1550.485,-14.0],[1550.490,-10],[1550.495,-5],[1550.500,-2],[1550.505,-1.0],
[1550.510,-0.7],[1550.516,-1.0],[1550.522,-0.5],[1550.528,-0.9],[1550.534,-0.6],[1550.540,-1.0],[1550.546,-0.5],[1550.552,-0.8],[1550.558,-0.4],[1550.564,-0.9],[1550.570,-0.6],[1550.576,-1.0],[1550.582,-0.7],[1550.588,-1.1],[1550.594,-0.6],[1550.600,-0.9],[1550.606,-0.7],[1550.612,-1.1],[1550.618,-0.8],[1550.624,-1.2],[1550.630,-0.9],[1550.636,-1.3],[1550.642,-1.0],[1550.648,-1.2],[1550.654,-1.0],[1550.660,-1.4],[1550.666,-1.6],[1550.671,-3.5],[1550.676,-8],[1550.681,-12.5],[1550.686,-14.4],[1550.690,-12.8],[1550.694,-14.0],[1550.698,-13.6],[1550.703,-12.2],[1550.709,-11.6],[1550.715,-11.4],[1550.721,-11.3],[1550.727,-11.7],[1550.733,-12.2],[1550.739,-12.6],[1550.745,-13.0],[1550.751,-13.4],[1550.757,-14.2],[1550.763,-15.0],[1550.769,-15.8],[1550.775,-17.0],[1550.781,-18.6],[1550.786,-20.0],[1550.791,-20.8],[1550.796,-20.9],[1550.801,-20.3],[1550.806,-19.0],[1550.811,-17.5],[1550.816,-16.0],[1550.821,-14.6],[1550.826,-13.6],[1550.831,-12.8],[1550.836,-12.2],[1550.840,-13.8],[1550.844,-12.0],[1550.848,-14.2],[1550.852,-12.6],[1550.857,-13.2],[1550.862,-13.0],[1550.867,-14.0],[1550.872,-13.1],[1550.876,-10],[1550.881,-5],[1550.886,-2.5],[1550.891,-1.4],
[1550.896,-0.8],[1550.902,-0.4],[1550.908,-0.7],[1550.914,-0.3],[1550.920,-0.6],[1550.926,-0.2],[1550.932,-0.5],[1550.938,-0.1],[1550.944,-0.6],[1550.950,-0.2],[1550.956,-0.7],[1550.962,-0.3],[1550.968,-0.8],[1550.974,-0.4],[1550.980,-0.7],[1550.986,-0.3],[1550.992,-0.8],[1551.000,-0.5]
];
const barC = [
[1549.000,-24.0],[1549.004,-23.8],[1549.008,-22.5],[1549.013,-21.0],[1549.018,-20.0],[1549.024,-19.0],[1549.030,-18.0],[1549.036,-17.0],[1549.042,-16.0],[1549.048,-15.3],[1549.054,-15.0],[1549.060,-14.6],[1549.066,-14.2],[1549.072,-13.6],[1549.077,-12.0],[1549.081,-8],[1549.085,-4],[1549.089,-2.2],[1549.093,-1.5],
[1549.098,-1.2],[1549.104,-0.8],[1549.110,-1.3],[1549.116,-0.9],[1549.122,-1.4],[1549.128,-0.8],[1549.134,-1.2],[1549.140,-0.7],[1549.146,-1.1],[1549.152,-0.8],[1549.158,-1.3],[1549.164,-0.7],[1549.170,-1.1],[1549.176,-0.6],[1549.182,-1.0],[1549.188,-0.7],[1549.194,-1.2],[1549.200,-0.8],[1549.206,-1.3],[1549.212,-0.9],[1549.218,-1.4],[1549.224,-1.0],[1549.230,-1.5],[1549.236,-1.1],[1549.242,-1.4],[1549.248,-1.2],[1549.254,-1.6],[1549.260,-1.5],[1549.265,-2.5],[1549.269,-6],[1549.273,-11],[1549.277,-14.5],[1549.281,-17.0],[1549.285,-14],[1549.290,-13.0],[1549.296,-12.4],[1549.302,-12.2],[1549.308,-12.5],[1549.314,-12.0],[1549.320,-12.3],[1549.326,-12.0],[1549.332,-12.4],[1549.338,-12.1],[1549.344,-12.8],[1549.350,-13.4],[1549.356,-14.2],[1549.362,-14.8],[1549.368,-15.8],[1549.374,-17.0],[1549.380,-18.8],[1549.386,-21.0],[1549.391,-23.0],[1549.396,-24.5],[1549.401,-24.7],[1549.406,-23.0],[1549.411,-20.8],[1549.416,-19.0],[1549.422,-17.6],[1549.428,-16.4],[1549.434,-15.4],[1549.440,-14.6],[1549.446,-14.2],[1549.452,-14.1],[1549.458,-14.0],[1549.464,-14.3],[1549.470,-14.1],[1549.475,-15.5],[1549.479,-17.5],[1549.483,-15.0],[1549.487,-14.2],[1549.491,-10],[1549.495,-5],[1549.499,-2.2],[1549.503,-1.4],
[1549.508,-1.0],[1549.514,-1.4],[1549.520,-0.8],[1549.526,-1.2],[1549.532,-0.7],[1549.538,-1.1],[1549.544,-0.6],[1549.550,-1.0],[1549.556,-0.7],[1549.562,-1.2],[1549.568,-0.8],[1549.574,-1.1],[1549.580,-0.6],[1549.586,-1.0],[1549.592,-0.7],[1549.598,-1.2],[1549.604,-0.8],[1549.610,-1.1],[1549.616,-0.7],[1549.622,-1.2],[1549.628,-0.9],[1549.634,-1.3],[1549.640,-0.9],[1549.646,-1.2],[1549.652,-1.0],[1549.658,-1.4],[1549.664,-1.1],[1549.670,-1.3],[1549.676,-1.2],[1549.682,-1.6],[1549.688,-2.2],[1549.693,-5],[1549.698,-10],[1549.703,-14],[1549.708,-16.7],[1549.713,-15.5],[1549.718,-13.5],[1549.724,-12.9],[1549.730,-12.6],[1549.736,-12.2],[1549.742,-12.5],[1549.748,-12.0],[1549.754,-12.3],[1549.760,-13.0],[1549.766,-13.8],[1549.772,-14.5],[1549.778,-16.0],[1549.784,-17.6],[1549.789,-19.1],[1549.794,-21.0],[1549.799,-23.0],[1549.804,-24.3],[1549.809,-22.4],[1549.814,-20.7],[1549.818,-21.6],[1549.822,-22.6],[1549.827,-20.0],[1549.832,-18.4],[1549.838,-17.0],[1549.844,-16.2],[1549.850,-15.4],[1549.856,-14.8],[1549.862,-14.3],[1549.868,-14.0],[1549.874,-13.9],[1549.880,-14.1],[1549.886,-13.9],[1549.891,-16.9],[1549.895,-14],[1549.898,-9],[1549.902,-4],[1549.906,-1.8],
[1549.910,-1.2],[1549.916,-0.8],[1549.922,-1.3],[1549.928,-0.9],[1549.934,-1.2],[1549.940,-0.7],[1549.946,-1.1],[1549.952,-0.8],[1549.958,-1.3],[1549.964,-0.7],[1549.970,-1.0],[1549.976,-0.6],[1549.982,-1.1],[1549.988,-0.8],[1549.994,-1.2],[1550.000,-0.9],[1550.006,-1.3],[1550.012,-1.0],[1550.018,-1.4],[1550.024,-1.0],[1550.030,-1.3],[1550.036,-1.1],[1550.042,-1.5],[1550.048,-1.2],[1550.054,-1.5],[1550.060,-1.3],[1550.066,-1.7],[1550.071,-2.5],[1550.075,-5],[1550.079,-9],[1550.083,-13],[1550.086,-15.0],[1550.090,-14],[1550.096,-13.2],[1550.102,-12.8],[1550.108,-12.2],[1550.114,-12.4],[1550.120,-12.1],[1550.126,-12.5],[1550.132,-12.2],[1550.138,-12.8],[1550.144,-13.6],[1550.150,-14.0],[1550.156,-14.5],[1550.162,-15.2],[1550.168,-16.0],[1550.174,-16.8],[1550.180,-17.5],[1550.186,-18.6],[1550.192,-19.8],[1550.198,-21.0],[1550.204,-22.3],[1550.210,-23.4],[1550.215,-24.4],[1550.220,-23.2],[1550.224,-21.5],[1550.228,-22.3],[1550.232,-20.0],[1550.237,-18.0],[1550.243,-16.4],[1550.249,-14.9],[1550.255,-14.3],[1550.261,-13.8],[1550.267,-13.6],[1550.273,-14.2],[1550.279,-14.6],[1550.284,-15.8],[1550.289,-14.4],[1550.294,-13.9],[1550.298,-10],[1550.302,-5],[1550.306,-2.2],[1550.310,-1.4],
[1550.315,-1.0],[1550.321,-1.4],[1550.327,-0.8],[1550.333,-1.2],[1550.339,-0.7],[1550.345,-1.1],[1550.351,-0.8],[1550.357,-1.3],[1550.363,-0.7],[1550.369,-1.1],[1550.375,-0.8],[1550.381,-1.2],[1550.387,-0.9],[1550.393,-1.3],[1550.399,-0.8],[1550.405,-1.2],[1550.411,-0.9],[1550.417,-1.4],[1550.423,-1.0],[1550.429,-1.3],[1550.435,-1.1],[1550.441,-1.5],[1550.447,-1.2],[1550.453,-1.6],[1550.459,-1.3],[1550.465,-1.7],[1550.471,-1.4],[1550.476,-2.2],[1550.480,-4.5],[1550.484,-9],[1550.488,-13],[1550.492,-15.5],[1550.497,-16.6],[1550.502,-17.4],[1550.507,-15],[1550.512,-13],[1550.518,-12.6],[1550.524,-12.3],[1550.530,-12.5],[1550.536,-12.2],[1550.542,-12.6],[1550.548,-13.0],[1550.554,-13.8],[1550.560,-14.6],[1550.566,-15.6],[1550.571,-17.2],[1550.576,-19.5],[1550.581,-21.8],[1550.586,-24.0],[1550.590,-24.9],[1550.594,-23.8],[1550.598,-21.3],[1550.603,-19.0],[1550.609,-17.2],[1550.615,-16.0],[1550.621,-15.0],[1550.627,-14.4],[1550.633,-14.0],[1550.639,-13.7],[1550.645,-13.5],[1550.651,-13.4],[1550.657,-13.8],[1550.662,-14.5],[1550.667,-16.4],[1550.672,-14.8],[1550.677,-13.6],[1550.682,-10],[1550.686,-5],[1550.690,-2.2],[1550.694,-1.4],
[1550.699,-1.0],[1550.705,-1.4],[1550.711,-0.8],[1550.717,-1.2],[1550.723,-0.7],[1550.729,-1.1],[1550.735,-0.8],[1550.741,-1.3],[1550.747,-0.8],[1550.753,-1.1],[1550.759,-0.7],[1550.765,-1.2],[1550.771,-0.9],[1550.777,-1.3],[1550.783,-0.9],[1550.789,-1.2],[1550.795,-1.0],[1550.801,-1.4],[1550.807,-1.1],[1550.813,-1.3],[1550.819,-1.0],[1550.825,-1.5],[1550.831,-1.2],[1550.837,-1.5],[1550.843,-1.3],[1550.849,-1.7],[1550.855,-1.5],[1550.861,-2.0],[1550.866,-3.5],[1550.871,-7],[1550.876,-11],[1550.881,-14.5],[1550.886,-16.0],[1550.891,-15.0],[1550.896,-16.9],[1550.901,-15.3],[1550.907,-13.8],[1550.913,-13.2],[1550.919,-13.0],[1550.925,-13.3],[1550.931,-13.1],[1550.937,-13.6],[1550.943,-14.2],[1550.949,-14.9],[1550.955,-15.3],[1550.961,-16.2],[1550.967,-17.6],[1550.973,-18.6],[1550.979,-19.8],[1550.985,-21.0],[1550.990,-21.9],[1550.995,-23.3],[1551.000,-24.8]
];
const dashedC = [
[1549.000,-2.4],[1549.004,-3.1],[1549.010,-2.8],[1549.015,-3.4],[1549.020,-3.2],[1549.025,-3.6],[1549.030,-3.4],[1549.035,-3.9],[1549.040,-4.0],[1549.045,-3.7],[1549.050,-3.9],[1549.055,-3.6],[1549.060,-3.9],[1549.065,-3.8],[1549.070,-3.5],[1549.077,-3.3],[1549.082,-4.2],[1549.087,-5.4],[1549.093,-7.0],[1549.100,-8.4],[1549.105,-9.8],[1549.110,-10.2],[1549.115,-10.6],[1549.120,-10.9],[1549.127,-10.5],[1549.133,-10.7],[1549.140,-10.0],[1549.147,-9.6],[1549.154,-9.2],[1549.160,-8.4],[1549.167,-7.8],[1549.172,-7.3],[1549.176,-7.0],[1549.183,-6.8],[1549.190,-6.4],[1549.197,-6.2],[1549.204,-5.6],[1549.211,-5.2],[1549.218,-4.85],[1549.225,-4.6],[1549.232,-4.3],[1549.240,-4.0],[1549.247,-4.3],[1549.254,-4.2],[1549.261,-4.5],[1549.268,-4.85],[1549.274,-4.0],[1549.279,-2.5],[1549.284,-1.2],[1549.290,-0.8],[1549.298,-0.7],[1549.305,-1.0],[1549.312,-1.2],[1549.319,-1.5],[1549.326,-1.3],[1549.333,-1.7],[1549.340,-1.4],[1549.348,-1.7],[1549.355,-1.9],[1549.362,-1.6],[1549.369,-1.56],[1549.376,-2.0],[1549.383,-2.4],[1549.390,-2.7],[1549.397,-3.0],[1549.404,-3.2],[1549.411,-3.4],[1549.418,-3.7],[1549.426,-3.8],[1549.433,-4.0],[1549.440,-4.2],[1549.447,-3.9],[1549.455,-3.8],[1549.462,-3.5],[1549.469,-3.6],[1549.476,-3.35],[1549.482,-4.2],[1549.487,-5.5],[1549.491,-6.8],[1549.497,-8.2],[1549.504,-9.2],[1549.511,-9.9],[1549.519,-10.3],[1549.526,-10.4],[1549.533,-10.1],[1549.540,-9.6],[1549.547,-9.2],[1549.554,-8.7],[1549.561,-8.3],[1549.568,-7.7],[1549.575,-7.4],[1549.583,-7.0],[1549.590,-6.6],[1549.597,-6.2],[1549.604,-5.9],[1549.611,-5.7],[1549.618,-5.3],[1549.625,-5.0],[1549.632,-4.8],[1549.640,-4.6],[1549.647,-4.3],[1549.654,-4.1],[1549.661,-3.9],[1549.668,-3.8],[1549.676,-3.7],[1549.685,-3.8],[1549.691,-4.2],[1549.697,-4.85],[1549.703,-3.5],[1549.710,-1.8],[1549.718,-0.75],[1549.725,-0.9],[1549.732,-0.8],[1549.740,-1.1],[1549.747,-0.9],[1549.754,-1.0],[1549.761,-1.4],[1549.768,-1.7],[1549.775,-2.1],[1549.782,-1.8],[1549.790,-1.6],[1549.797,-1.6],[1549.803,-2.3],[1549.810,-2.9],[1549.817,-3.0],[1549.824,-3.3],[1549.832,-3.2],[1549.839,-3.5],[1549.846,-3.9],[1549.853,-3.9],[1549.860,-3.6],[1549.867,-3.5],[1549.875,-3.5],[1549.882,-4.2],[1549.889,-5.2],[1549.897,-6.2],[1549.903,-7.5],[1549.910,-8.7],[1549.917,-9.3],[1549.925,-9.8],[1549.932,-10.1],[1549.940,-10.3],[1549.946,-9.8],[1549.953,-9.2],[1549.960,-8.8],[1549.967,-8.4],[1549.974,-8.1],[1549.981,-7.8],[1549.988,-7.4],[1549.996,-7.0],[1550.003,-6.4],[1550.010,-5.9],[1550.017,-5.3],[1550.024,-4.85],[1550.031,-4.6],[1550.038,-4.4],[1550.045,-4.2],[1550.052,-4.3],[1550.060,-4.4],[1550.067,-4.6],[1550.074,-4.9],[1550.081,-5.4],[1550.088,-4.0],[1550.095,-2.2],[1550.103,-1.0],[1550.110,-1.1],[1550.118,-1.0],[1550.125,-1.3],[1550.132,-1.2],[1550.140,-1.5],[1550.147,-1.4],[1550.154,-1.56],[1550.161,-1.7],[1550.168,-1.9],[1550.175,-1.8],[1550.182,-2.1],[1550.189,-2.3],[1550.196,-2.6],[1550.203,-2.8],[1550.210,-2.9],[1550.217,-3.2],[1550.224,-3.5],[1550.232,-3.6],[1550.239,-3.8],[1550.246,-4.0],[1550.253,-3.9],[1550.261,-4.1],[1550.268,-4.3],[1550.275,-4.0],[1550.282,-3.7],[1550.290,-3.5],[1550.297,-3.9],[1550.303,-5.3],[1550.309,-7.0],[1550.316,-8.1],[1550.323,-8.9],[1550.330,-9.4],[1550.338,-9.8],[1550.345,-9.7],[1550.352,-9.5],[1550.359,-8.8],[1550.366,-8.1],[1550.373,-7.6],[1550.380,-7.0],[1550.387,-6.4],[1550.395,-5.7],[1550.402,-5.2],[1550.409,-4.9],[1550.416,-4.6],[1550.423,-4.4],[1550.430,-4.2],[1550.437,-4.0],[1550.444,-4.0],[1550.452,-3.9],[1550.459,-3.9],[1550.466,-4.2],[1550.473,-4.6],[1550.480,-3.6],[1550.487,-2.5],[1550.494,-1.8],[1550.500,-1.6],[1550.508,-1.4],[1550.516,-1.3],[1550.523,-1.3],[1550.530,-1.5],[1550.537,-1.7],[1550.544,-1.8],[1550.551,-2.1],[1550.558,-2.3],[1550.565,-2.4],[1550.572,-2.5],[1550.580,-2.6],[1550.587,-2.7],[1550.594,-2.7],[1550.601,-2.9],[1550.608,-2.8],[1550.615,-2.9],[1550.622,-3.4],[1550.630,-4.0],[1550.637,-3.7],[1550.644,-3.4],[1550.651,-3.35],[1550.658,-3.2],[1550.665,-3.1],[1550.672,-3.8],[1550.680,-4.85],[1550.687,-6.0],[1550.694,-7.0],[1550.701,-8.4],[1550.708,-9.5],[1550.715,-9.7],[1550.722,-9.8],[1550.729,-9.2],[1550.737,-8.4],[1550.744,-7.7],[1550.751,-7.0],[1550.758,-6.5],[1550.765,-6.1],[1550.772,-5.7],[1550.780,-5.4],[1550.787,-5.0],[1550.794,-4.7],[1550.800,-4.6],[1550.808,-4.3],[1550.815,-4.1],[1550.822,-4.0],[1550.829,-3.8],[1550.836,-3.7],[1550.843,-3.6],[1550.850,-3.6],[1550.858,-3.8],[1550.865,-3.9],[1550.872,-4.0],[1550.880,-3.0],[1550.887,-2.5],[1550.893,-2.1],[1550.900,-1.8],[1550.908,-1.6],[1550.915,-1.5],[1550.922,-1.4],[1550.929,-1.5],[1550.936,-1.6],[1550.943,-1.6],[1550.950,-1.7],[1550.958,-1.8],[1550.965,-1.9],[1550.972,-2.0],[1550.980,-2.1],[1550.987,-2.2],[1550.994,-2.3],[1551.000,-2.4]
];
const labelsC = [
  {x: 1549.564, y: 0.76, text: "cross"},
  {x: 1549.790, y: 0.76, text: "bar"}
];

// ---------------- rendering ----------------
const FONT = "'Liberation Sans', Arial, Helvetica, sans-serif";
const GRAY = "#868686";
const AX = "#333";
const fmt1 = d3.format(".1f");
const fmtY = d => String(d);
const X = d => d[0], Y = d => d[1];

function doubleArrows(list, opts) {
  const mid = list.map(a => ({mx: (a[0] + a[2]) / 2, my: (a[1] + a[3]) / 2, x1: a[0], y1: a[1], x2: a[2], y2: a[3]}));
  return [
    Plot.arrow(mid, {x1: "mx", y1: "my", x2: "x1", y2: "y1", ...opts}),
    Plot.arrow(mid, {x1: "mx", y1: "my", x2: "x2", y2: "y2", ...opts})
  ];
}
const arrowOpts = {stroke: "#000", strokeWidth: 1.2, headLength: 8, headAngle: 50};
const baseStyle = {background: "transparent", fontFamily: FONT, fontSize: "18px", color: "#000", overflow: "visible"};

const plotA = Plot.plot({
  width: 562, height: 400, marginTop: 13, marginLeft: 75, marginRight: 17, marginBottom: 58,
  style: baseStyle,
  x: {domain: [1549, 1551]},
  y: {domain: [-25, 2]},
  marks: [
    Plot.line(crossA, {x: X, y: Y, stroke: GRAY, strokeWidth: 1.9, clip: true}),
    Plot.line(barA, {x: X, y: Y, stroke: "#000", strokeWidth: 1.9, clip: true}),
    Plot.ruleX(vrulesA, {x: d => d[0], y1: d => d[1], y2: d => d[2], stroke: "#000", strokeWidth: 1}),
    Plot.ruleY(hrulesA, {y: d => d[0], x1: d => d[1], x2: d => d[2], stroke: "#000", strokeWidth: 1.3}),
    ...doubleArrows(arrowsA, arrowOpts),
    Plot.text(labelsMidA, {x: "x", y: "y", text: "text", textAnchor: "middle", fontSize: 17, fill: "#000"}),
    Plot.text(labelsStartA, {x: "x", y: "y", text: "text", textAnchor: "start", fontSize: "size", fill: "#000"}),
    Plot.frame({stroke: AX}),
    Plot.axisX({ticks: ticksXA, tickFormat: fmt1, tickSize: 4, tickPadding: 14, label: null, stroke: AX}),
    Plot.axisY({ticks: ticksYA, tickFormat: fmtY, tickSize: 5, tickPadding: 8, label: null, stroke: AX})
  ]
});
document.getElementById("pa").appendChild(plotA);

const plotB = Plot.plot({
  width: 556, height: 400, marginTop: 13, marginLeft: 92, marginRight: 0, marginBottom: 63,
  style: baseStyle,
  x: {domain: [1549.75, 1550.55]},
  y: {domain: [-35, 2]},
  marks: [
    Plot.line(idealB, {x: X, y: Y, stroke: "#000", strokeWidth: 1.1, strokeDasharray: "8,2,1.5,2,1.5,2", clip: true}),
    Plot.line(measB, {x: X, y: Y, stroke: "#000", strokeWidth: 1.5, strokeDasharray: "8,4.5", clip: true}),
    Plot.line(fitB, {x: X, y: Y, stroke: "#000", strokeWidth: 1.8, clip: true}),
    Plot.ruleX(vrulesB, {x: d => d[0], y1: d => d[1], y2: d => d[2], stroke: "#000", strokeWidth: 1}),
    ...doubleArrows(arrowsB, arrowOpts),
    Plot.text(labelsB, {x: "x", y: "y", text: "text", fontSize: 17, fill: "#000"}),
    Plot.frame({stroke: AX}),
    Plot.axisX({ticks: ticksXB, tickFormat: fmt1, tickSize: 4, tickPadding: 14, label: null, stroke: AX}),
    Plot.axisY({ticks: ticksYB, tickFormat: fmtY, tickSize: 5, tickPadding: 3, label: null, stroke: AX})
  ]
});
document.getElementById("pb").appendChild(plotB);

const plotC = Plot.plot({
  width: 562, height: 411, marginTop: 17, marginLeft: 77, marginRight: 17, marginBottom: 66,
  style: baseStyle,
  x: {domain: [1549, 1551]},
  y: {domain: [-25, 2]},
  marks: [
    Plot.line(barC, {x: X, y: Y, stroke: GRAY, strokeWidth: 1.9, clip: true}),
    Plot.line(crossC, {x: X, y: Y, stroke: "#000", strokeWidth: 1.9, clip: true}),
    Plot.line(dashedC, {x: X, y: Y, stroke: "#000", strokeWidth: 1.6, strokeDasharray: "4,3", clip: true}),
    Plot.text(labelsC, {x: "x", y: "y", text: "text", fontSize: 17, fill: "#000"}),
    Plot.frame({stroke: AX}),
    Plot.axisX({ticks: ticksXC, tickFormat: fmt1, tickSize: 4, tickPadding: 9, label: null, stroke: AX}),
    Plot.axisY({ticks: ticksYC, tickFormat: fmtY, tickSize: 5, tickPadding: 8, label: null, stroke: AX})
  ]
});
document.getElementById("pc").appendChild(plotC);
</script>
</body></html>
